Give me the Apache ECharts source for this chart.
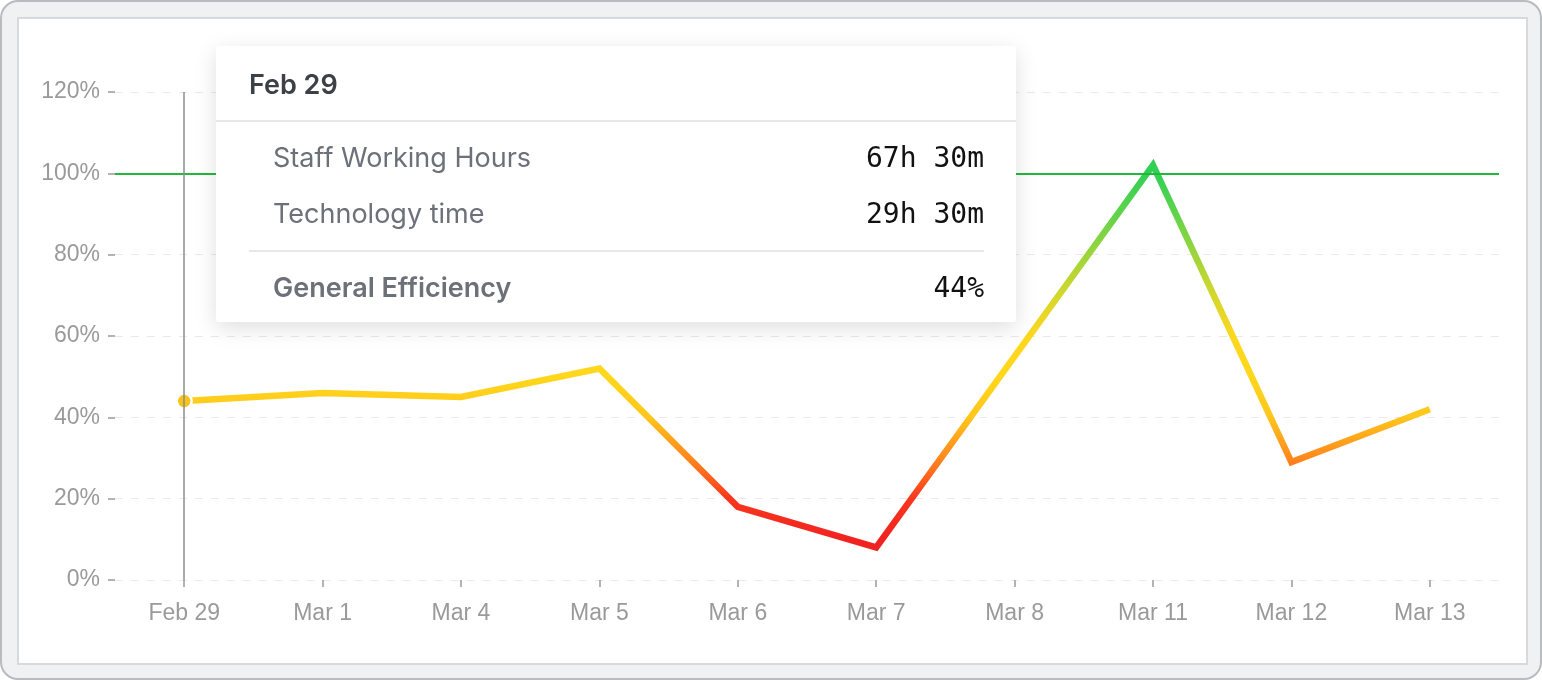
<!DOCTYPE html>
<html>
<head>
<meta charset="utf-8">
<script src="https://cdn.jsdelivr.net/npm/echarts@6/dist/echarts.min.js"></script>
<style>
  html, body { margin: 0; padding: 0; background: #fff; }
  .frame {
    position: absolute; left: 0; top: 0; width: 1542px; height: 680px;
    box-sizing: border-box; border: 2px solid #b8bbbf; border-radius: 18px;
    background: #f0f1f3;
  }
  .panel {
    position: absolute; left: 15px; top: 15px; width: 1511px; height: 648px;
    box-sizing: border-box; border: 2px solid #d8d9db; background: #fff;
  }
  #chart { position: absolute; left: 0; top: 0; width: 1542px; height: 680px; }
  .tip { width: 800px; height: 276px; font-family: Inter, sans-serif; }
  .tip .ttl { height: 74px; line-height: 78px; padding-left: 33px; font-size: 27px; font-weight: 600; color: #3c4047; border-bottom: 2px solid #e6e7ea; }
  .tip .row { display: flex; justify-content: space-between; height: 56px; line-height: 56px; padding: 0 32px 0 57px; }
  .tip .row.first { margin-top: 8px; }
  .tip .lab { font-size: 27px; color: #6b7079; }
  .tip .val { font-family: 'DejaVu Sans Mono', monospace; font-size: 28px; color: #111; }
  .tip .sep { margin: 8px 32px 0 33px; border-top: 2px solid #e6e7ea; }
  .tip .row.total { height: 70px; line-height: 72px; }
  .tip .row.total .lab { font-weight: 600; }
</style>
</head>
<body>
<div class="frame"><div class="panel"></div></div>
<div id="chart"></div>
<script>
// 日期
var days = ['Feb 29', 'Mar 1', 'Mar 4', 'Mar 5', 'Mar 6', 'Mar 7', 'Mar 8', 'Mar 11', 'Mar 12', 'Mar 13'];
// 效率 %
var efficiency = [44, 46, 45, 52, 18, 8, 55, 102, 29, 42];
// 提示框内容（只知道 Feb 29 的）
var staffHours = ['67h 30m'];
var techTime = ['29h 30m'];
var yTicks = [0, 20, 40, 60, 80, 100, 120];
var target = 100;

var chart = echarts.init(document.getElementById('chart'));
var axisFont = '"Liberation Sans", Arial, sans-serif';

var option = {
  animation: false,
  grid: { left: 115, right: 43, top: 92, bottom: 100 },
  tooltip: {
    trigger: 'axis',
    alwaysShowContent: true,
    padding: 0,
    borderWidth: 0,
    backgroundColor: '#fff',
    extraCssText: 'box-shadow:0 6px 22px rgba(0,0,0,0.13);border-radius:3px;',
    position: function () { return [216, 46]; },
    axisPointer: {
      type: 'line',
      lineStyle: { color: '#8c8c8c', width: 1.5, type: 'solid' }
    },
    formatter: function (params) {
      var i = params[0].dataIndex;
      return '<div class="tip">' +
        '<div class="ttl">' + days[i] + '</div>' +
        '<div class="row first"><span class="lab">Staff Working Hours</span><span class="val">' + (staffHours[i] || '') + '</span></div>' +
        '<div class="row"><span class="lab">Technology time</span><span class="val">' + (techTime[i] || '') + '</span></div>' +
        '<div class="sep"></div>' +
        '<div class="row total"><span class="lab">General Efficiency</span><span class="val">' + efficiency[i] + '%</span></div>' +
        '</div>';
    }
  },
  visualMap: {
    show: false,
    type: 'continuous',
    seriesIndex: 0,
    dimension: 1,
    min: 0,
    max: 100,
    inRange: {
      color: ['#d81e1e', '#db201e', '#e2321c', '#f27c1a', '#f6b41a', '#f7c41a', '#e6c41c', '#c2c428', '#8ec236', '#58c044', '#2ebd4e']
    }
  },
  xAxis: {
    type: 'category',
    data: days,
    boundaryGap: true,
    axisLine: { show: false },
    axisTick: { show: true, alignWithLabel: true, length: 7, lineStyle: { color: '#9a9a9a', width: 1.5 } },
    axisLabel: { margin: 22, fontSize: 23, color: '#9a9a9a', fontFamily: axisFont },
    splitLine: { show: false }
  },
  yAxis: {
    type: 'value',
    min: yTicks[0],
    max: yTicks[yTicks.length - 1],
    interval: 20,
    axisLine: { show: false },
    axisTick: { show: true, length: 7, lineStyle: { color: '#9a9a9a', width: 1.5 } },
    axisLabel: { margin: 15, fontSize: 23, color: '#9a9a9a', fontFamily: axisFont, formatter: '{value}%' },
    splitLine: { show: true, lineStyle: { color: '#e9e9e9', width: 1, type: [8, 8] } }
  },
  series: [{
    type: 'line',
    data: efficiency,
    showSymbol: false,
    symbol: 'circle',
    symbolSize: 15,
    lineStyle: { width: 6.5, join: 'miter' },
    itemStyle: { borderColor: '#fff', borderWidth: 2.5 },
    emphasis: { scale: false, itemStyle: { color: '#f7c41a', borderColor: '#fff', borderWidth: 2.5 } },
    markLine: {
      silent: true,
      symbol: 'none',
      label: { show: false },
      lineStyle: { color: '#22b93a', width: 2, type: 'solid' },
      data: [{ yAxis: target }]
    },
    z: 3
  }]
};

chart.setOption(option);
chart.dispatchAction({ type: 'showTip', seriesIndex: 0, dataIndex: 0 });
</script>
</body>
</html>
